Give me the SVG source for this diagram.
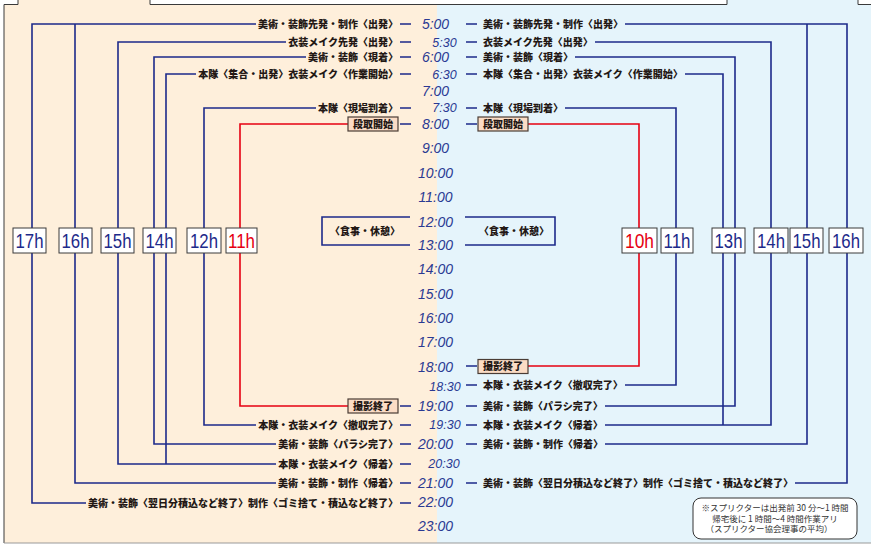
<svg xmlns="http://www.w3.org/2000/svg" width="871" height="545" viewBox="0 0 871 545">
<style>
.lbl{font-family:"Noto Sans CJK JP","Noto Sans CJK SC",sans-serif;font-weight:900;font-size:10px;fill:#231815}
.l{text-anchor:end}
.tm{font-family:"Liberation Sans",Arial,sans-serif;font-style:italic;font-size:14px;fill:#2a3a93;text-anchor:middle}
.th{font-family:"Liberation Sans",Arial,sans-serif;font-style:italic;font-size:12.5px;fill:#2a3a93;text-anchor:middle}
.ln{fill:none;stroke:#1d2a8a;stroke-width:1.6}
.rd{fill:none;stroke:#e60012;stroke-width:1.6}
.hb{fill:#fff;stroke:#3a3a3a;stroke-width:1}
.ht{font-family:"Liberation Sans",Arial,sans-serif;font-size:21px;fill:#1d2a8a;text-anchor:middle}
.htr{fill:#e60012}
.ev{fill:#fbdcc5;stroke:#4a3c35;stroke-width:1.2}
.note{font-family:"Noto Sans CJK JP",sans-serif;font-size:8.5px;fill:#333;text-anchor:middle}
</style>
<rect width="871" height="545" fill="#fff"/>
<g id="background">
<rect x="4" y="4.5" width="433" height="538.5" fill="#feefdb"/>
<rect x="18" y="0" width="132" height="5" fill="#feefdb"/>
<rect x="437" y="4.5" width="434" height="538.5" fill="#e5f4fb"/>
<rect x="727" y="0" width="131" height="5" fill="#e5f4fb"/>
<path d="M4,543 V4.5 H18 V0 M150,0 V4.5 H727 V0 M858,0 V4.5 H871" fill="none" stroke="#3a3a3a" stroke-width="1"/>
<path d="M4,543 H871" fill="none" stroke="#9a9a9a" stroke-width="1.2"/>
</g>
<g id="times">
<text class="tm" x="435.5" y="29">5:00</text>
<text class="th" x="444.5" y="46.5">5:30</text>
<text class="tm" x="435.5" y="62">6:00</text>
<text class="th" x="444.5" y="78.5">6:30</text>
<text class="tm" x="435.5" y="96">7:00</text>
<text class="th" x="444.5" y="111.5">7:30</text>
<text class="tm" x="435.5" y="129">8:00</text>
<text class="tm" x="435.5" y="153">9:00</text>
<text class="tm" x="435.5" y="178">10:00</text>
<text class="tm" x="435.5" y="202">11:00</text>
<text class="tm" x="435.5" y="227">12:00</text>
<text class="tm" x="435.5" y="250">13:00</text>
<text class="tm" x="435.5" y="274">14:00</text>
<text class="tm" x="435.5" y="299">15:00</text>
<text class="tm" x="435.5" y="323">16:00</text>
<text class="tm" x="435.5" y="347">17:00</text>
<text class="tm" x="435.5" y="372">18:00</text>
<text class="th" x="445" y="391">18:30</text>
<text class="tm" x="435.5" y="411">19:00</text>
<text class="th" x="445" y="429">19:30</text>
<text class="tm" x="435.5" y="449">20:00</text>
<text class="th" x="444" y="467.5">20:30</text>
<text class="tm" x="435.5" y="488">21:00</text>
<text class="tm" x="435.5" y="507">22:00</text>
<text class="tm" x="435.5" y="531">23:00</text>
</g>
<g id="connectors">
<path class="ln" d="M400,24H411M400,42H411M400,57H411M400,74H411M400,108H411M400,124H411M400,406H411M400,425H411M400,444H411M400,464H411M400,483H411M400,503H411"/>
<path class="ln" d="M466,24H477M466,42H477M466,57H477M466,74H477M466,108H477M466,124H477M466,366H477M466,385H477M466,406H477M466,425H477M466,444H477M466,483H477"/>
<path class="ln" d="M256,24H32V503H86"/>
<path class="ln" d="M75,24V483H276"/>
<path class="ln" d="M286,42H118V464H276"/>
<path class="ln" d="M306,57H154V444H276"/>
<path class="ln" d="M196,74H166V464"/>
<path class="ln" d="M316,108H204V425H256"/>
<path class="rd" d="M348,124H240V406H348"/>
<path class="ln" d="M625,24H847V483H795"/>
<path class="ln" d="M807,24V444H605"/>
<path class="ln" d="M595,42H771V425H605"/>
<path class="ln" d="M575,57H735V406H605"/>
<path class="ln" d="M685,74H723V425"/>
<path class="ln" d="M565,108H676V385H625"/>
<path class="rd" d="M528,124H639V366H528"/>
<path class="ln" d="M410,217H322V245H410"/>
<path class="ln" d="M465,217H555V245H465"/>
</g>
<g id="left-labels">
<text class="lbl l" x="398" y="27.5">美術・装飾先発・制作〈出発〉</text>
<text class="lbl l" x="398" y="45.5">衣装メイク先発〈出発〉</text>
<text class="lbl l" x="398" y="60.5">美術・装飾〈現着〉</text>
<text class="lbl l" x="398" y="77.5">本隊〈集合・出発〉衣装メイク〈作業開始〉</text>
<text class="lbl l" x="398" y="111.5">本隊〈現場到着〉</text>
<text class="lbl l" x="398" y="428.5">本隊・衣装メイク〈撤収完了〉</text>
<text class="lbl l" x="398" y="447.5">美術・装飾〈パラシ完了〉</text>
<text class="lbl l" x="398" y="467.5">本隊・衣装メイク〈帰着〉</text>
<text class="lbl l" x="398" y="486.5">美術・装飾・制作〈帰着〉</text>
<text class="lbl l" x="398" y="506.5">美術・装飾〈翌日分積込など終了〉制作〈ゴミ捨て・積込など終了〉</text>
</g>
<g id="right-labels">
<text class="lbl" x="483" y="27.5">美術・装飾先発・制作〈出発〉</text>
<text class="lbl" x="483" y="45.5">衣装メイク先発〈出発〉</text>
<text class="lbl" x="483" y="60.5">美術・装飾〈現着〉</text>
<text class="lbl" x="483" y="77.5">本隊〈集合・出発〉衣装メイク〈作業開始〉</text>
<text class="lbl" x="483" y="111.5">本隊〈現場到着〉</text>
<text class="lbl" x="483" y="388.5">本隊・衣装メイク〈撤収完了〉</text>
<text class="lbl" x="483" y="409.5">美術・装飾〈パラシ完了〉</text>
<text class="lbl" x="483" y="428.5">本隊・衣装メイク〈帰着〉</text>
<text class="lbl" x="483" y="447.5">美術・装飾・制作〈帰着〉</text>
<text class="lbl" x="483" y="486.5">美術・装飾〈翌日分積込など終了〉制作〈ゴミ捨て・積込など終了〉</text>
</g>
<g id="meal-left"><text class="lbl" x="365" y="234.5" text-anchor="middle">〈食事・休憩〉</text></g>
<g id="meal-right"><text class="lbl" x="514" y="234.5" text-anchor="middle">〈食事・休憩〉</text></g>
<g id="setup-left"><rect class="ev" x="348" y="117" width="50" height="14"/><text class="lbl" x="373" y="127.5" text-anchor="middle">段取開始</text></g>
<g id="setup-right"><rect class="ev" x="478" y="117" width="50" height="14"/><text class="lbl" x="503" y="127.5" text-anchor="middle">段取開始</text></g>
<g id="wrap-left"><rect class="ev" x="348" y="399" width="50" height="14"/><text class="lbl" x="373" y="409.5" text-anchor="middle">撮影終了</text></g>
<g id="wrap-right"><rect class="ev" x="478" y="359.5" width="50" height="14"/><text class="lbl" x="503" y="370" text-anchor="middle">撮影終了</text></g>
<g id="h17l"><rect class="hb" x="13" y="228" width="33" height="25"/><text class="ht" x="29.5" y="248" textLength="28" lengthAdjust="spacingAndGlyphs">17h</text></g>
<g id="h16l"><rect class="hb" x="59" y="228" width="33" height="25"/><text class="ht" x="75.5" y="248" textLength="28" lengthAdjust="spacingAndGlyphs">16h</text></g>
<g id="h15l"><rect class="hb" x="101" y="228" width="33" height="25"/><text class="ht" x="117.5" y="248" textLength="28" lengthAdjust="spacingAndGlyphs">15h</text></g>
<g id="h14l"><rect class="hb" x="143" y="228" width="33" height="25"/><text class="ht" x="159.5" y="248" textLength="28" lengthAdjust="spacingAndGlyphs">14h</text></g>
<g id="h12l"><rect class="hb" x="187" y="228" width="34" height="25"/><text class="ht" x="204" y="248" textLength="28" lengthAdjust="spacingAndGlyphs">12h</text></g>
<g id="h11l"><rect class="hb" x="226" y="228" width="31" height="25"/><text class="ht htr" x="241.5" y="248" textLength="27" lengthAdjust="spacingAndGlyphs">11h</text></g>
<g id="h10r"><rect class="hb" x="622" y="228" width="35" height="25"/><text class="ht htr" x="639.5" y="248" textLength="29" lengthAdjust="spacingAndGlyphs">10h</text></g>
<g id="h11r"><rect class="hb" x="661" y="228" width="32" height="25"/><text class="ht" x="677" y="248" textLength="27" lengthAdjust="spacingAndGlyphs">11h</text></g>
<g id="h13r"><rect class="hb" x="712" y="228" width="33" height="25"/><text class="ht" x="728.5" y="248" textLength="28" lengthAdjust="spacingAndGlyphs">13h</text></g>
<g id="h14r"><rect class="hb" x="754" y="228" width="34" height="25"/><text class="ht" x="771" y="248" textLength="28" lengthAdjust="spacingAndGlyphs">14h</text></g>
<g id="h15r"><rect class="hb" x="790" y="228" width="33" height="25"/><text class="ht" x="806.5" y="248" textLength="28" lengthAdjust="spacingAndGlyphs">15h</text></g>
<g id="h16r"><rect class="hb" x="829" y="228" width="34" height="25"/><text class="ht" x="846" y="248" textLength="28" lengthAdjust="spacingAndGlyphs">16h</text></g>
<g id="note">
<rect x="693" y="498" width="164" height="41" rx="8" ry="8" fill="#fff" stroke="#333" stroke-width="1"/>
<text class="note" x="775" y="511">※スプリクターは出発前 30 分〜1 時間</text>
<text class="note" x="775" y="521.5">帰宅後に 1 時間〜4 時間作業アリ</text>
<text class="note" x="769" y="532">（スプリクター協会理事の平均）</text>
</g>
</svg>
